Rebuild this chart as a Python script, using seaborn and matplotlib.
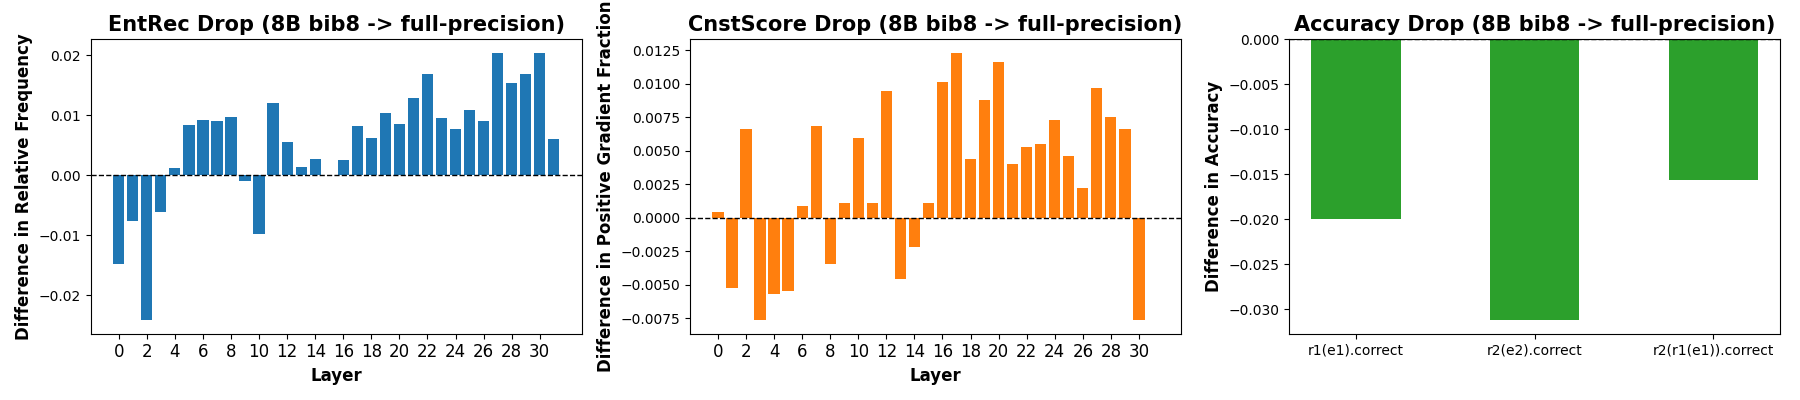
import numpy as np
import pandas as pd
import matplotlib
matplotlib.use("Agg")
import matplotlib.pyplot as plt
import seaborn as sns

# ===============================
# Data
# ===============================
entrec_layers = list(range(32))
entrec_diff = [-0.0148, -0.0076, -0.0242, -0.0062, 0.0012, 0.0084, 0.0092, 0.0091,
               0.0097, -0.0009, -0.0098, 0.0120, 0.0056, 0.0014, 0.0027, 0.0,
               0.0026, 0.0082, 0.0062, 0.0104, 0.0086, 0.0128, 0.0168, 0.0096,
               0.0077, 0.0109, 0.0091, 0.0203, 0.0153, 0.0168, 0.0204, 0.0061]

cnst_layers = list(range(31))
cnst_diff = [0.00042, -0.00524, 0.00664, -0.00766, -0.00571, -0.00549, 0.00087, 0.00686,
             -0.00347, 0.0011, 0.00596, 0.0011, 0.00948, -0.00459, -0.00220, 0.0011,
             0.01015, 0.01233, 0.00439, 0.00881, 0.01165, 0.00402, 0.00529, 0.00551,
             0.00731, 0.00462, 0.00222, 0.00970, 0.00753, 0.00664, -0.00766]

acc_labels = ["r1(e1).correct", "r2(e2).correct", "r2(r1(e1)).correct"]
acc_diff = [-0.0200, -0.03115, -0.01559]

title_suffix = "(8B bib8 -> full-precision)"

# ===============================
# Plot (plain matplotlib look)
# ===============================
plt.rcParams['font.family'] = ['DejaVu Sans']

fig, axes = plt.subplots(1, 3, figsize=(18, 4), dpi=100)

# Panel 1: EntRec
ax = axes[0]
df1 = pd.DataFrame({"Layer": entrec_layers, "diff": entrec_diff})
sns.barplot(data=df1, x="Layer", y="diff", native_scale=True, color="#1f77b4",
            saturation=1, width=0.8, linewidth=0, ax=ax)
ax.axhline(0, color="black", linestyle="--", linewidth=1)
ax.set_xticks(range(0, 32, 2))
ax.set_xlim(-2, 33)
ax.tick_params(axis="x", labelsize=12)
ax.set_title(f"EntRec Drop {title_suffix}", fontsize=15, fontweight="bold")
ax.set_xlabel("Layer", fontsize=12, fontweight="bold")
ax.set_ylabel("Difference in Relative Frequency", fontsize=12, fontweight="bold")

# Panel 2: CnstScore
ax = axes[1]
df2 = pd.DataFrame({"Layer": cnst_layers, "diff": cnst_diff})
sns.barplot(data=df2, x="Layer", y="diff", native_scale=True, color="#ff7f0e",
            saturation=1, width=0.8, linewidth=0, ax=ax)
ax.axhline(0, color="black", linestyle="--", linewidth=1)
ax.set_xticks(range(0, 32, 2))
ax.set_xlim(-2, 33)
ax.tick_params(axis="x", labelsize=12)
ax.set_title(f"CnstScore Drop {title_suffix}", fontsize=15, fontweight="bold")
ax.set_xlabel("Layer", fontsize=12, fontweight="bold")
ax.set_ylabel("Difference in Positive Gradient Fraction", fontsize=12, fontweight="bold")

# Panel 3: Accuracy
ax = axes[2]
df3 = pd.DataFrame({"metric": acc_labels, "diff": acc_diff})
sns.barplot(data=df3, x="metric", y="diff", color="#2ca02c", saturation=1,
            width=0.5, linewidth=0, ax=ax)
ax.axhline(0, color="black", linestyle="--", linewidth=1)
ax.set_xlim(-0.375, 2.375)
ax.set_ylim(top=0)
ax.set_title(f"Accuracy Drop {title_suffix}", fontsize=15, fontweight="bold")
ax.set_xlabel("")
ax.set_ylabel("Difference in Accuracy", fontsize=12, fontweight="bold")

plt.tight_layout()
plt.savefig("out.png")
